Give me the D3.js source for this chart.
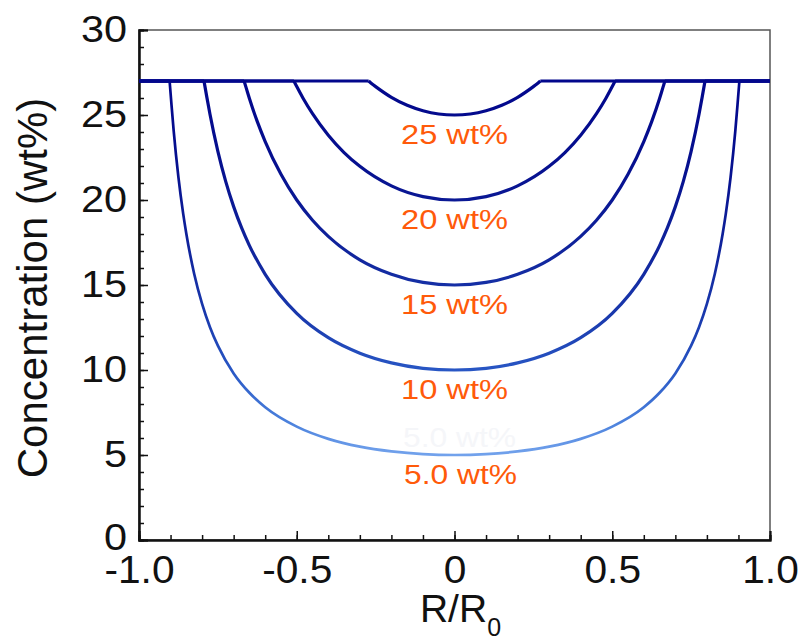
<!DOCTYPE html>
<html>
<head>
<meta charset="utf-8">
<script src="https://cdn.jsdelivr.net/npm/d3@7"></script>
<style>
  html, body { margin: 0; padding: 0; background: #ffffff; }
  svg { display: block; font-family: "Liberation Sans", Arial, sans-serif; }
</style>
</head>
<body>
<div id="chart"></div>
<script>
// Concentration profiles (profile is capped at 27 wt%)
var series_names = ["25 wt%", "20 wt%", "15 wt%", "10 wt%", "5.0 wt%"];
var series_min = [25, 20, 15, 10, 5];
var label_widths = [107, 107, 107, 107, 113];
var r_25 = [-1, -0.272, -0.26, -0.25, -0.2, -0.15, -0.1, -0.05, 0, 0.05, 0.1, 0.15, 0.2, 0.25, 0.26, 0.272, 1];
var c_25 = [27, 27, 26.81, 26.67, 26.04, 25.57, 25.25, 25.06, 25, 25.06, 25.25, 25.57, 26.04, 26.67, 26.81, 27, 27];
var r_20 = [-1, -0.509, -0.5, -0.48, -0.45, -0.4, -0.35, -0.3, -0.2, -0.1, 0, 0.1, 0.2, 0.3, 0.35, 0.4, 0.45, 0.48, 0.5, 0.509, 1];
var c_20 = [27, 27, 26.67, 25.99, 25.08, 23.81, 22.79, 21.98, 20.83, 20.2, 20, 20.2, 20.83, 21.98, 22.79, 23.81, 25.08, 25.99, 26.67, 27, 27];
var r_15 = [-1, -0.667, -0.66, -0.65, -0.625, -0.6, -0.55, -0.5, -0.45, -0.4, -0.3, -0.2, -0.1, 0, 0.1, 0.2, 0.3, 0.4, 0.45, 0.5, 0.55, 0.6, 0.625, 0.65, 0.66, 0.667, 1];
var c_15 = [27, 27, 26.58, 25.97, 24.61, 23.44, 21.51, 20, 18.81, 17.86, 16.48, 15.63, 15.15, 15, 15.15, 15.63, 16.48, 17.86, 18.81, 20, 21.51, 23.44, 24.61, 25.97, 26.58, 27, 27];
var r_10 = [-1, -0.794, -0.785, -0.775, -0.75, -0.725, -0.7, -0.675, -0.65, -0.6, -0.5, -0.4, -0.3, -0.2, -0.1, 0, 0.1, 0.2, 0.3, 0.4, 0.5, 0.6, 0.65, 0.675, 0.7, 0.725, 0.75, 0.775, 0.785, 0.794, 1];
var c_10 = [27, 27, 26.05, 25.04, 22.86, 21.08, 19.61, 18.37, 17.32, 15.63, 13.33, 11.9, 10.99, 10.42, 10.1, 10, 10.1, 10.42, 10.99, 11.9, 13.33, 15.63, 17.32, 18.37, 19.61, 21.08, 22.86, 25.04, 26.05, 27, 27];
var r_5 = [-1, -0.903, -0.897, -0.89, -0.875, -0.86, -0.85, -0.825, -0.8, -0.775, -0.75, -0.7, -0.65, -0.6, -0.5, -0.4, -0.3, -0.2, -0.1, 0, 0.1, 0.2, 0.3, 0.4, 0.5, 0.6, 0.65, 0.7, 0.75, 0.775, 0.8, 0.825, 0.85, 0.86, 0.875, 0.89, 0.897, 0.903, 1];
var c_5 = [27, 27, 25.59, 24.05, 21.33, 19.2, 18.02, 15.65, 13.89, 12.52, 11.43, 9.8, 8.66, 7.81, 6.67, 5.95, 5.49, 5.21, 5.05, 5, 5.05, 5.21, 5.49, 5.95, 6.67, 7.81, 8.66, 9.8, 11.43, 12.52, 13.89, 15.65, 18.02, 19.2, 21.33, 24.05, 25.59, 27, 27];
var series_r = [r_25, r_20, r_15, r_10, r_5];
var series_c = [c_25, c_20, c_15, c_10, c_5];

// Axis ticks
var x_major_ticks = [-1, -0.5, 0, 0.5, 1];
var x_tick_labels = ["-1.0", "-0.5", "0", "0.5", "1.0"];
var y_major_ticks = [0, 5, 10, 15, 20, 25, 30];

(function () {
  "use strict";

  ////////////////////////////////////////////////////////////////////////////////////////////////////////////
  //
  // Layout
  //
  var width = 801;
  var height = 641;
  var plot_l = 139;
  var plot_r = 770;
  var plot_t = 30;
  var plot_b = 540;
  var label_color = "#ff5a0a";

  var x = d3.scaleLinear().domain([-1, 1]).range([plot_l, plot_r]);
  var y = d3.scaleLinear().domain([0, 30]).range([plot_b, plot_t]);

  var svg = d3.select("#chart")
    .append("svg")
    .attr("width", width)
    .attr("height", height);

  // Colour follows concentration: dark navy at the cap, light blue at the bottom
  var grad = svg.append("defs")
    .append("linearGradient")
    .attr("id", "conc-grad")
    .attr("gradientUnits", "userSpaceOnUse")
    .attr("x1", 0).attr("x2", 0)
    .attr("y1", y(27)).attr("y2", y(5));
  var stops = [[27, "#02078c"], [22, "#06108f"], [17, "#10249c"], [13, "#1a3aae"], [10, "#2856c4"], [7, "#4a80dc"], [5, "#72a2ec"]];
  stops.forEach(function (s) {
    grad.append("stop")
      .attr("offset", (y(s[0]) - y(27)) / (y(5) - y(27)))
      .attr("stop-color", s[1]);
  });

  ////////////////////////////////////////////////////////////////////////////////////////////////////////////
  //
  // Axes (ticks point inward)
  //
  var x_minor = d3.range(-10, 11).map(function (d) { return d / 10; });
  var y_minor = d3.range(0, 31);

  var x_axis_minor = d3.axisBottom(x).tickValues(x_minor).tickSize(-5).tickFormat("");
  var x_axis = d3.axisBottom(x).tickValues(x_major_ticks).tickSize(-9).tickPadding(16)
    .tickFormat(function (d, i) { return x_tick_labels[i]; });
  var y_axis_minor = d3.axisLeft(y).tickValues(y_minor).tickSize(-5).tickFormat("");
  var y_axis = d3.axisLeft(y).tickValues(y_major_ticks).tickSize(-9).tickPadding(12);

  // Frame (top and right sides)
  svg.append("rect")
    .attr("x", plot_l).attr("y", plot_t)
    .attr("width", plot_r - plot_l).attr("height", plot_b - plot_t)
    .attr("fill", "none")
    .attr("stroke", "#555")
    .attr("stroke-width", 1.5);

  var gx_minor = svg.append("g").attr("transform", "translate(0," + plot_b + ")").call(x_axis_minor);
  var gx = svg.append("g").attr("transform", "translate(0," + plot_b + ")").call(x_axis);
  var gy_minor = svg.append("g").attr("transform", "translate(" + plot_l + ",0)").call(y_axis_minor);
  var gy = svg.append("g").attr("transform", "translate(" + plot_l + ",0)").call(y_axis);

  [gx_minor, gx, gy_minor, gy].forEach(function (g) {
    g.select(".domain").attr("stroke", "#111").attr("stroke-width", 2);
    g.selectAll(".tick line").attr("stroke", "#111").attr("stroke-width", 1.5);
  });

  gx.selectAll(".tick text")
    .attr("fill", "#111")
    .style("font-size", "38px")
    .attr("textLength", function () { return this.getComputedTextLength() * 1.07; })
    .attr("lengthAdjust", "spacingAndGlyphs");
  gy.selectAll(".tick text")
    .attr("fill", "#111")
    .style("font-size", "36px")
    .attr("dy", function (d) { return d === 0 ? "0.25em" : "0.32em"; })
    .attr("textLength", function () { return this.getComputedTextLength() * 1.15; })
    .attr("lengthAdjust", "spacingAndGlyphs");

  // Axis titles
  svg.append("text")
    .attr("transform", "translate(47," + ((plot_t + plot_b) / 2 + 3) + ") rotate(-90)")
    .attr("text-anchor", "middle")
    .attr("fill", "#111")
    .style("font-size", "42px")
    .text("Concentration (wt%)");

  var x_title = svg.append("text")
    .attr("x", (plot_l + plot_r) / 2 + 6)
    .attr("y", 622)
    .attr("text-anchor", "middle")
    .attr("fill", "#111")
    .style("font-size", "39px");
  x_title.append("tspan").text("R/R");
  x_title.append("tspan").attr("dy", 14).style("font-size", "25px").text("0");

  ////////////////////////////////////////////////////////////////////////////////////////////////////////////
  //
  // Curves: flat cap segments drawn straight, the bowl drawn smooth
  //
  var bowl = d3.line()
    .x(function (d) { return x(d[0]); })
    .y(function (d) { return y(d[1]); })
    .curve(d3.curveMonotoneX);
  var straight = d3.line()
    .x(function (d) { return x(d[0]); })
    .y(function (d) { return y(d[1]); });

  var g_lines = svg.append("g");
  series_r.forEach(function (rs, k) {
    var pts = rs.map(function (r, i) { return [r, series_c[k][i]]; });
    var n = pts.length;
    g_lines.append("path")
      .attr("d", bowl(pts.slice(1, n - 1)))
      .attr("fill", "none")
      .attr("stroke", "url(#conc-grad)")
      .attr("stroke-width", k === 4 ? 2.7 : 3.2);
    g_lines.append("path")
      .attr("d", straight(pts.slice(0, 2)) + straight(pts.slice(n - 2)))
      .attr("fill", "none")
      .attr("stroke", "#02078c")
      .attr("stroke-width", 3.2);
  });

  ////////////////////////////////////////////////////////////////////////////////////////////////////////////
  //
  // Labels under each minimum
  //
  // faint ghost label left over in the original figure
  svg.append("text")
    .attr("x", x(0) + 5)
    .attr("y", y(5) - 8)
    .attr("text-anchor", "middle")
    .attr("fill", "#f5f6f9")
    .style("font-size", "28px")
    .attr("textLength", 113)
    .attr("lengthAdjust", "spacingAndGlyphs")
    .text("5.0 wt%");

  series_names.forEach(function (name, k) {
    svg.append("text")
      .attr("x", x(0) + (k === 4 ? 6 : 0))
      .attr("y", y(series_min[k] - 1.7))
      .attr("text-anchor", "middle")
      .attr("fill", label_color)
      .style("font-size", "27px")
      .attr("textLength", label_widths[k])
      .attr("lengthAdjust", "spacingAndGlyphs")
      .text(name);
  });
})();
</script>
</body>
</html>
